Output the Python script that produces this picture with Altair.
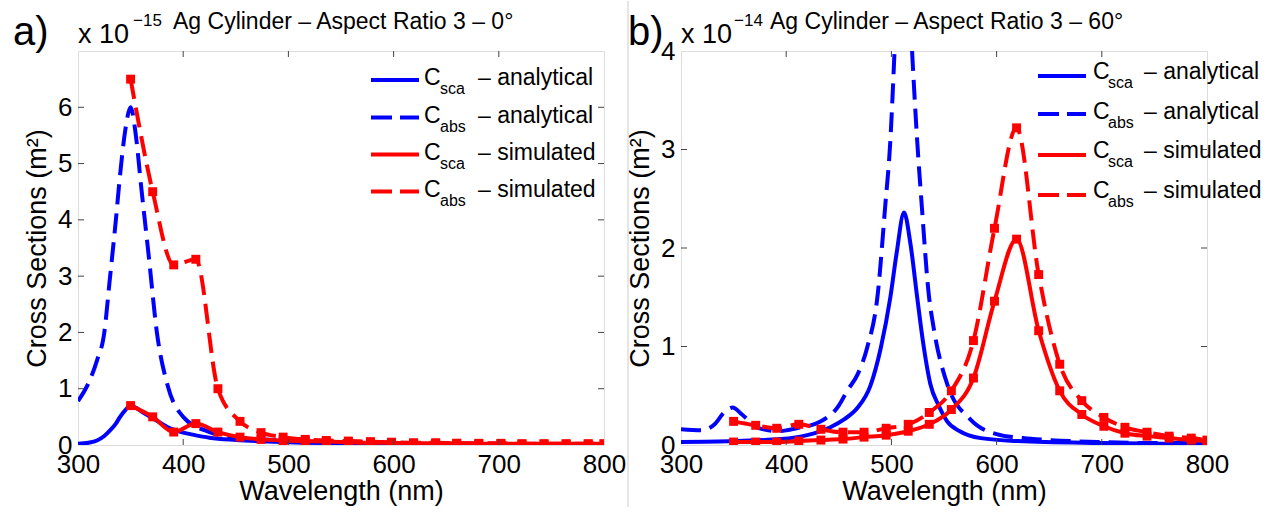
import altair as alt
import pandas as pd

# ---------------- data (cross sections; panel a in 1e-15 m^2, panel b in 1e-14 m^2) ----------------
# Panel a) 0 degrees
a_sca_ana_wl = [300, 310, 318, 325, 330, 336, 340, 345, 350, 355, 360, 367, 375, 385, 400, 410, 425, 450, 500, 550, 600, 700, 800]
a_sca_ana = [0.02, 0.04, 0.08, 0.16, 0.25, 0.38, 0.5, 0.62, 0.70, 0.66, 0.6, 0.52, 0.43, 0.32, 0.22, 0.18, 0.13, 0.09, 0.05, 0.03, 0.02, 0.01, 0.01]
a_abs_ana_wl = [300, 310, 318, 325, 330, 336, 340, 345, 350, 355, 360, 367, 375, 385, 400, 425, 450, 500, 550, 600, 700, 800]
a_abs_ana = [0.78, 1.1, 1.5, 2.0, 2.9, 4.0, 4.8, 5.6, 6.0, 5.5, 4.6, 3.4, 2.0, 1.07, 0.5, 0.23, 0.14, 0.08, 0.05, 0.03, 0.02, 0.01]
sim_wl = [350, 371, 391, 412, 433, 454, 474, 495, 516, 536, 557, 578, 598, 619, 640, 660, 681, 702, 722, 743, 764, 785, 800]
a_sca_sim = [0.70, 0.50, 0.23, 0.38, 0.23, 0.14, 0.10, 0.08, 0.07, 0.06, 0.05, 0.04, 0.04, 0.03, 0.03, 0.03, 0.02, 0.02, 0.02, 0.02, 0.02, 0.02, 0.02]
a_abs_sim = [6.5, 4.5, 3.2, 3.3, 1.0, 0.42, 0.22, 0.14, 0.10, 0.08, 0.07, 0.06, 0.05, 0.04, 0.04, 0.03, 0.03, 0.03, 0.02, 0.02, 0.02, 0.02, 0.02]

# Panel b) 60 degrees
b_sca_ana_wl = [300, 350, 395, 420, 442, 455, 468, 480, 490, 499, 505, 512, 518, 524.5, 530, 537, 545, 553, 565, 585, 620, 700, 800]
b_sca_ana = [0.03, 0.04, 0.06, 0.1, 0.18, 0.26, 0.38, 0.6, 0.99, 1.5, 1.95, 2.36, 2.05, 1.5, 1.05, 0.62, 0.4, 0.24, 0.14, 0.07, 0.04, 0.02, 0.01]
b_abs_ana_wl = [300, 320, 332, 341, 349, 358, 372, 392, 410, 433, 450, 458, 468, 477, 487, 494, 499, 503, 507, 511, 515, 520, 524.5, 529, 535.5, 540, 553, 575, 600, 625, 650, 700, 750, 800]
b_abs_ana = [0.16, 0.15, 0.21, 0.33, 0.38, 0.31, 0.18, 0.14, 0.17, 0.24, 0.4, 0.55, 0.72, 0.99, 1.53, 2.41, 3.09, 4.0, 5.0, 5.5, 5.0, 3.93, 3.09, 2.41, 1.53, 1.2, 0.62, 0.26, 0.11, 0.07, 0.05, 0.03, 0.02, 0.02]
b_sca_sim = [0.03, 0.03, 0.03, 0.04, 0.05, 0.06, 0.08, 0.10, 0.14, 0.21, 0.36, 0.68, 1.46, 2.09, 1.16, 0.55, 0.31, 0.19, 0.12, 0.09, 0.07, 0.05, 0.04]
b_abs_sim = [0.24, 0.20, 0.17, 0.21, 0.16, 0.13, 0.13, 0.17, 0.21, 0.33, 0.55, 1.06, 2.2, 3.22, 1.73, 0.82, 0.45, 0.28, 0.18, 0.13, 0.09, 0.07, 0.05]

x_ticks = [300, 400, 500, 600, 700, 800]
a_y_ticks = [0, 1, 2, 3, 4, 5, 6]
b_y_ticks = [0, 1, 2, 3, 4]

legend_main = ["C", "C", "C", "C"]
legend_sub = ["sca", "abs", "sca", "abs"]
legend_rest = ["\u2013 analytical", "\u2013 analytical", "\u2013 simulated", "\u2013 simulated"]
legend_color = ["#0000ff", "#0000ff", "#ff0000", "#ff0000"]
legend_dash = [False, True, False, True]

W, H = 526, 394
FONT = "Liberation Sans"
BLUE, RED = "#0000ff", "#ff0000"
DASH = [20, 9]
LW = 4


def panel(sca_wl, sca, abs_wl, absv, s_sca, s_abs, ymax, yticks, letter, exp, title_rest,
          exp_x, title_x, leg_line_x, leg_c_x, leg_sub_x, leg_rest_x, leg_base, leg_line_y,
          letter_x, sep=False):
    xs = alt.Scale(domain=[300, 800], nice=False, zero=False)
    ys = alt.Scale(domain=[0, ymax], nice=False, zero=True)
    xaxis = alt.Axis(values=x_ticks, format="d", labelFontSize=26, labelFont=FONT, labelColor="black",
                     labelPadding=6, labelFlush=False, labelOverlap=False, domain=False, ticks=False,
                     grid=False, title="Wavelength (nm)", titleFontSize=27, titleFont=FONT,
                     titleFontWeight="normal", titleColor="black", titlePadding=1)
    yaxis = alt.Axis(values=yticks, format="d", labelFontSize=26, labelFont=FONT, labelColor="black",
                     labelPadding=6, labelFlush=False, labelOverlap=False, domain=False, ticks=False,
                     grid=False, title="Cross Sections (m\u00b2)", titleFontSize=27, titleFont=FONT,
                     titleFontWeight="normal", titleColor="black", titlePadding=6)
    X = lambda f: alt.X(f, scale=xs, axis=xaxis)
    Y = lambda f: alt.Y(f, scale=ys, axis=yaxis)

    def line(wl, vals, color, dash, points=False):
        df = pd.DataFrame({"wl": wl, "v": vals})
        props = dict(color=color, strokeWidth=LW, clip=True, interpolate="monotone")
        if dash:
            props["strokeDash"] = DASH
        ch = alt.Chart(df).mark_line(**props).encode(x=X("wl:Q"), y=Y("v:Q"))
        if points:
            pts = alt.Chart(df).mark_square(color=color, size=80, opacity=1, clip=True).encode(
                x=X("wl:Q"), y=Y("v:Q"))
            return ch + pts
        return ch

    layers = [
        line(abs_wl, absv, BLUE, True),
        line(sca_wl, sca, BLUE, False),
        line(sim_wl, s_sca, RED, False, points=True),
        line(sim_wl, s_abs, RED, True, points=True),
    ]

    # inward tick marks on all four sides
    xt = pd.DataFrame({"wl": x_ticks[1:-1]})
    yt = pd.DataFrame({"v": [t for t in yticks if 0 < t < ymax]})
    tick_style = dict(color="#444444", strokeWidth=1)
    layers += [
        alt.Chart(xt).mark_rule(**tick_style).encode(x=X("wl:Q"), y=alt.value(H), y2=alt.value(H - 6)),
        alt.Chart(xt).mark_rule(**tick_style).encode(x=X("wl:Q"), y=alt.value(0), y2=alt.value(6)),
        alt.Chart(yt).mark_rule(**tick_style).encode(y=Y("v:Q"), x=alt.value(0), x2=alt.value(6)),
        alt.Chart(yt).mark_rule(**tick_style).encode(y=Y("v:Q"), x=alt.value(W), x2=alt.value(W - 6)),
    ]

    # legend (no box)
    for i in range(4):
        d = pd.DataFrame({"m": [legend_main[i]], "s": [legend_sub[i]], "r": [legend_rest[i]]})
        lprops = dict(color=legend_color[i], strokeWidth=LW)
        if legend_dash[i]:
            lprops["strokeDash"] = [21, 8]
        layers.append(alt.Chart(d).mark_rule(**lprops).encode(
            x=alt.value(leg_line_x[0]), x2=alt.value(leg_line_x[1]), y=alt.value(leg_line_y[i])))
        layers.append(alt.Chart(d).mark_text(font=FONT, fontSize=23, align="left", baseline="alphabetic", color="black").encode(
            x=alt.value(leg_c_x), y=alt.value(leg_base[i]), text="m:N"))
        layers.append(alt.Chart(d).mark_text(font=FONT, fontSize=16, align="left", baseline="alphabetic", color="black").encode(
            x=alt.value(leg_sub_x), y=alt.value(leg_base[i] + 9), text="s:N"))
        layers.append(alt.Chart(d).mark_text(font=FONT, fontSize=23, align="left", baseline="alphabetic", color="black").encode(
            x=alt.value(leg_rest_x), y=alt.value(leg_base[i]), text="r:N"))

    # title pieces
    td = pd.DataFrame({"letter": [letter], "x10": ["x 10"], "exp": [exp], "rest": [title_rest]})
    layers += [
        alt.Chart(td).mark_text(font=FONT, fontSize=40, align="left", baseline="alphabetic", color="black").encode(
            x=alt.value(letter_x), y=alt.value(-6), text="letter:N"),
        alt.Chart(td).mark_text(font=FONT, fontSize=27, align="left", baseline="alphabetic", color="black").encode(
            x=alt.value(0), y=alt.value(-8), text="x10:N"),
        alt.Chart(td).mark_text(font=FONT, fontSize=17, align="left", baseline="alphabetic", color="black").encode(
            x=alt.value(exp_x), y=alt.value(-25), text="exp:N"),
        alt.Chart(td).mark_text(font=FONT, fontSize=23, align="left", baseline="alphabetic", color="black").encode(
            x=alt.value(title_x), y=alt.value(-22), text="rest:N"),
    ]
    if sep:
        layers.append(alt.Chart(td).mark_rule(color="#cccccc", strokeWidth=1).encode(
            x=alt.value(-53), y=alt.value(-50), y2=alt.value(H + 62)))

    return alt.layer(*layers).properties(width=W, height=H)


left = panel(a_sca_ana_wl, a_sca_ana, a_abs_ana_wl, a_abs_ana, a_sca_sim, a_abs_sim, 7, a_y_ticks,
             "a)", "\u221215", "Ag Cylinder \u2013 Aspect Ratio 3 \u2013 0\u00b0",
             exp_x=55, title_x=95,
             leg_line_x=(293, 341), leg_c_x=346, leg_sub_x=362, leg_rest_x=400,
             leg_base=[34, 71.5, 108.5, 145.5], leg_line_y=[29, 66.5, 103.5, 140.5], letter_x=-65)
right = panel(b_sca_ana_wl, b_sca_ana, b_abs_ana_wl, b_abs_ana, b_sca_sim, b_abs_sim, 4, b_y_ticks,
              "b)", "\u221214", "Ag Cylinder \u2013 Aspect Ratio 3 \u2013 60\u00b0",
              exp_x=53, title_x=89,
              leg_line_x=(357, 405), leg_c_x=412, leg_sub_x=427, leg_rest_x=463,
              leg_base=[28.3, 68, 107, 146.7], leg_line_y=[25, 63, 104, 144], letter_x=-53, sep=True)

chart = alt.hconcat(left, right, spacing=77, bounds="flush").properties(
    padding={"left": 12, "top": 0, "right": 0, "bottom": 0}
).configure_view(stroke="#444444", strokeWidth=1).configure(background="white")

chart.save("out.html", embed_options={"renderer": "svg", "actions": False})
